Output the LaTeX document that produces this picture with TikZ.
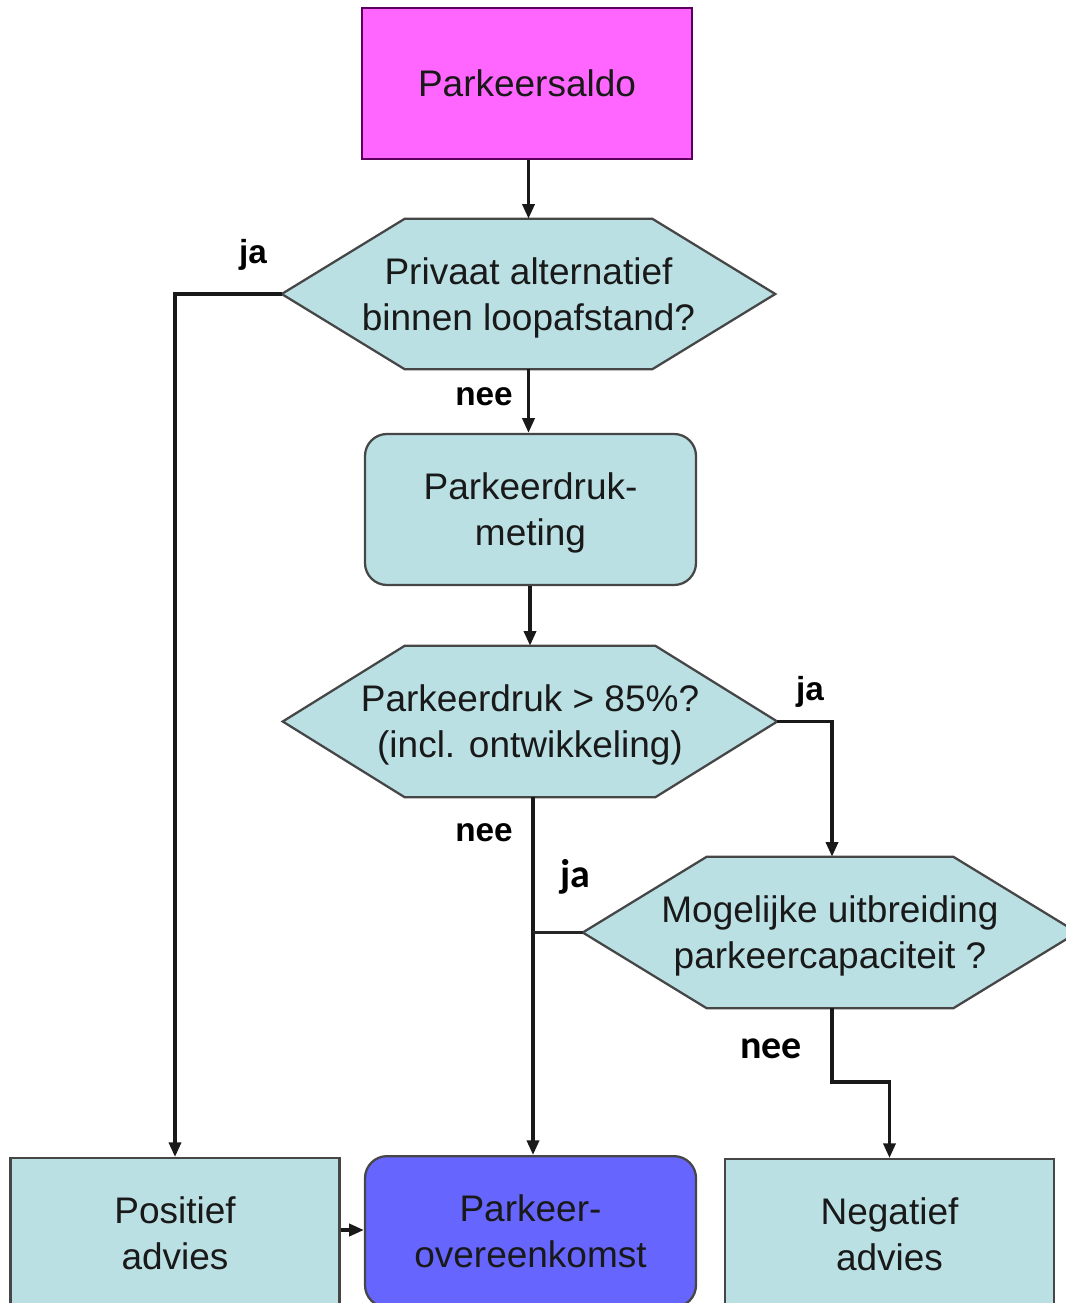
\documentclass[tikz,border=0pt]{standalone}
\usepackage{fontspec}
\setmainfont{Liberation Sans}
\newfontfamily\labelfont{Carlito}
\usetikzlibrary{arrows.meta,calc}

\newdimen\upx
\upx=0.75pt

\definecolor{boxblue}{RGB}{186,224,228}
\definecolor{saldopink}{RGB}{255,102,255}
\definecolor{dealblue}{RGB}{102,102,255}
\definecolor{edgegrey}{RGB}{70,70,70}

\tikzset{
  x=0.75pt, y=-0.75pt,
  boxtext/.style={align=center, font=\fontsize{27.75}{34.5}\selectfont, text=black!90, inner sep=0pt},
  plainbox/.style={boxtext, draw=edgegrey, line width=1.7pt, fill=boxblue,
    minimum width=329\upx, minimum height=151\upx},
  roundbox/.style={plainbox, rounded corners=22\upx},
  decision/.style={boxtext, minimum height=150\upx},
  hexfill/.style={draw=edgegrey, line width=1.7pt, fill=boxblue, line join=miter},
  flow/.style={line width=2.6pt, draw=black!90, -{Triangle[length=11pt,width=9pt]}},
  joint/.style={line width=2.6pt, draw=black!85},
  yesno/.style={font=\fontsize{25}{28}\selectfont\bfseries, inner sep=0pt},
  yesnoc/.style={font=\labelfont\fontsize{30}{34}\selectfont\bfseries, inner sep=0pt},
}

% hexagonal decision outline drawn around a node: #1 node, #2 slant width
\newcommand{\hexoutline}[2]{%
  \path[hexfill] (#1.west) -- ($(#1.north west)+(#2,0)$) -- ($(#1.north east)+(-#2,0)$)
    -- (#1.east) -- ($(#1.south east)+(-#2,0)$) -- ($(#1.south west)+(#2,0)$) -- cycle;}

\begin{document}
\begin{tikzpicture}
\clip (0,0) rectangle (1066,1303);
\fill[white] (0,0) rectangle (1066,1303);

% start
\node[plainbox, fill=saldopink, draw={rgb,255:red,90;green,0;blue,90}, line width=1.2pt,
  minimum width=330\upx, minimum height=151\upx] (saldo) at (527,83.5) {Parkeersaldo};

% first decision
\node[decision, minimum width=493\upx] (alt) at (528.5,294) {};
\hexoutline{alt}{123}
\node[boxtext] (alttext) at ($(alt.center)+(0,4)$) {Privaat alternatief\\binnen loopafstand?};

% measurement
\node[roundbox, minimum width=331\upx] (meting) at (530.5,509.5) {};
\node[boxtext] (metingtext) at ($(meting.center)+(0,3)$) {Parkeerdruk-\\meting};

% second decision
\node[decision, minimum width=494\upx, minimum height=151\upx] (druk) at (530,721.5) {};
\hexoutline{druk}{122}
\node[boxtext] (druktext) at ($(druk.center)+(0,3)$) {Parkeerdruk > 85\%?\\(incl. ontwikkeling)};

% third decision
\node[decision, minimum width=494\upx, minimum height=151\upx] (uitbr) at (830,932.5) {};
\hexoutline{uitbr}{124}
\node[boxtext] (uitbrtext) at ($(uitbr.center)+(0,3)$) {Mogelijke uitbreiding\\parkeercapaciteit ?};

% outcomes
\node[plainbox, minimum width=329\upx, minimum height=151\upx, anchor=north] (pos) at (175,1157) {Positief\\advies};
\node[roundbox, fill=dealblue, minimum width=331\upx, minimum height=151\upx, anchor=north] (deal) at (530.5,1155) {Parkeer-\\overeenkomst};
\node[plainbox, minimum width=329\upx, minimum height=151\upx, anchor=north] (neg) at (889.5,1158) {Negatief\\advies};

% connectors
\draw[flow] (saldo.south -| alt.north) -- (alt.north);
\draw[flow] (alt.south) -- (alt.south |- meting.north);
\draw[flow] (meting.south -| druk.north) -- (druk.north);
\draw[flow] (alt.west) -| (pos.north);
\draw[flow] (druk.east) -| ($(uitbr.north)+(2,0)$);
\coordinate (downA) at (533,797);
\draw[flow] (downA) -- (downA |- deal.north);
\draw[joint] (uitbr.west) -- (downA |- uitbr.west);
\coordinate (stepA) at (832,1082);
\draw[flow] ($(uitbr.south)+(2,0)$) -- (stepA) -| (neg.north);
\draw[flow] (pos.east |- 0,1230) -- (deal.west |- 0,1230);

% branch labels
\node[yesno] (l1) at (253,255) {ja};
\node[yesno] (l2) at (484,397) {nee};
\node[yesno] (l3) at (810,692) {ja};
\node[yesno] (l4) at (484,833) {nee};
\node[yesnoc] (l5) at (575,877) {ja};
\node[yesnoc] (l6) at (771,1049) {nee};
\end{tikzpicture}
\end{document}
